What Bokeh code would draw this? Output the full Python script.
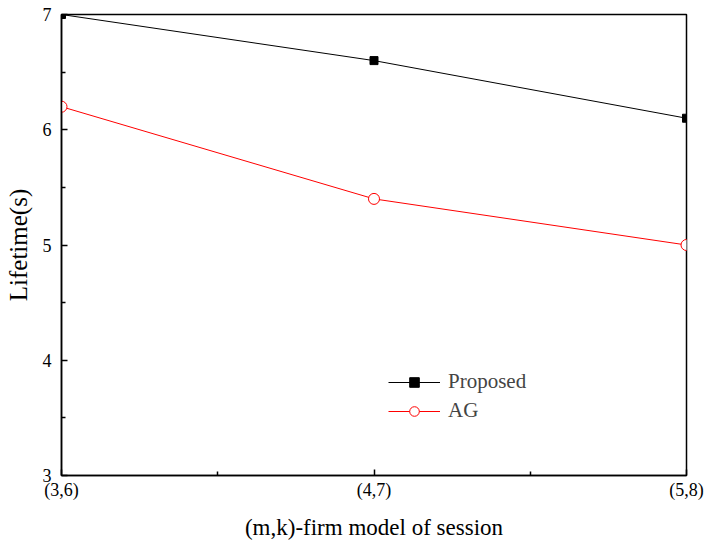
from bokeh.plotting import figure
from bokeh.models import FixedTicker, Range1d, Legend, LegendItem
from bokeh.embed import file_html
from bokeh.resources import INLINE

categories = ["(3,6)", "(4,7)", "(5,8)"]
proposed = [7.0, 6.6, 6.1]
ag = [6.2, 5.4, 5.0]
y_ticks = [3, 4, 5, 6, 7]

xs = list(range(len(categories)))
FONT = "Liberation Serif"

p = figure(width=706, height=544, output_backend="svg", toolbar_location=None,
           x_range=Range1d(0, len(categories) - 1), y_range=Range1d(3, 7),
           min_border_left=61, min_border_right=20, min_border_top=14, min_border_bottom=69)
p.grid.visible = False
p.outline_line_color = "black"
p.outline_line_width = 1.5
p.background_fill_color = "white"
p.border_fill_color = "white"

r1l = p.line(xs, proposed, line_color="black", line_width=1)
r1m = p.scatter(xs, proposed, marker="square", size=8, fill_color="black", line_color="black")
r2l = p.line(xs, ag, line_color="red", line_width=1)
r2m = p.scatter(xs, ag, marker="circle", size=11, fill_color="white", line_color="red", line_width=1)

xa = p.xaxis[0]
xa.ticker = FixedTicker(ticks=xs, minor_ticks=[0.5, 1.5])
xa.major_label_overrides = {i: c for i, c in enumerate(categories)}
ya = p.yaxis[0]
ya.ticker = FixedTicker(ticks=y_ticks, minor_ticks=[3.5, 4.5, 5.5, 6.5])

for ax in (xa, ya):
    ax.axis_line_width = 1.5
    ax.major_tick_in = 6
    ax.major_tick_out = 0
    ax.minor_tick_in = 4
    ax.minor_tick_out = 0
    ax.major_tick_line_width = 1.5
    ax.minor_tick_line_width = 1.5
    ax.major_label_text_font = FONT
    ax.major_label_text_font_size = "18px"
    ax.major_label_text_color = "black"
    ax.axis_label_text_font = FONT
    ax.axis_label_text_font_style = "normal"
    ax.axis_label_text_color = "black"

xa.axis_label = "(m,k)-firm model of session"
xa.axis_label_text_font_size = "23px"
xa.axis_label_standoff = 12
xa.major_label_standoff = 4
ya.axis_label = "Lifetime(s)"
ya.axis_label_text_font_size = "25px"
ya.axis_label_standoff = 8
ya.major_label_standoff = 10

legend = Legend(items=[LegendItem(label="Proposed", renderers=[r1l, r1m]),
                       LegendItem(label="AG", renderers=[r2l, r2m])],
                location=(327, 52))
legend.border_line_color = None
legend.background_fill_alpha = 0
legend.label_text_font = FONT
legend.label_text_font_size = "21px"
legend.glyph_width = 52
legend.glyph_height = 24
legend.label_height = 24
legend.spacing = 4
legend.label_standoff = 8
p.add_layout(legend, "center")

open("out.html", "w").write(file_html(p, INLINE))
